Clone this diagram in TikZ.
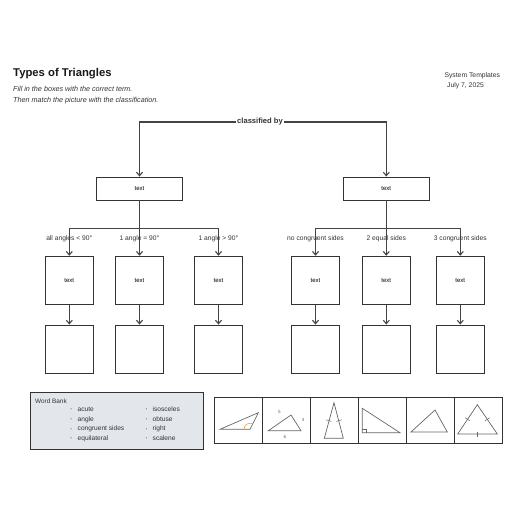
\documentclass[tikz,border=0pt]{standalone}
\usepackage{fontspec}
\setmainfont{Liberation Sans}
\usetikzlibrary{arrows.meta}
\definecolor{ink}{HTML}{333333}
\definecolor{line}{HTML}{444444}
\definecolor{bank}{HTML}{E3E6EB}
\definecolor{tri}{HTML}{666666}
\definecolor{arcc}{HTML}{E8A04A}
\tikzset{
  x=1pt, y=-1pt,
  box/.style={draw=ink, line width=0.9pt, fill=white, inner sep=0pt, font=\fontsize{6}{7}\selectfont},
  topbox/.style={box, minimum width=86pt, minimum height=23pt},
  sqbox/.style={box, minimum width=48pt, minimum height=48pt},
  conn/.style={draw=line, line width=1.1pt, -{Straight Barb[length=3.5pt,width=6pt]}},
  plain/.style={draw=line, line width=1.3pt},
  lab/.style={inner sep=0pt, anchor=base, font=\fontsize{6.7}{7.5}\selectfont, text=ink},
  trg/.style={draw=tri, line width=0.7pt},
  tick/.style={draw=tri, line width=0.5pt},
  small/.style={font=\fontsize{6.6}{7.5}\selectfont, text=ink, anchor=base west, inner sep=0pt}
}
\begin{document}
\begin{tikzpicture}
\useasboundingbox (0,0) rectangle (516,516);
% header
\node[anchor=west, inner sep=0pt, font=\fontsize{11.3}{13}\selectfont\bfseries, text=black!90] (title) at (13,73.5) {Types of Triangles};
\node[anchor=base west, inner sep=0pt, font=\fontsize{7.2}{8.5}\selectfont\itshape, text=ink] (sub1) at (13,91.8) {Fill in the boxes with the correct term.};
\node[anchor=base west, inner sep=0pt, font=\fontsize{7.2}{8.5}\selectfont\itshape, text=ink] (sub2) at (13,102.3) {Then match the picture with the classification.};
\node[small, font=\fontsize{6.8}{8}\selectfont] (sys) at (444.3,78) {System Templates};
\node[small, font=\fontsize{6.8}{8}\selectfont] (date) at (447,88) {July 7, 2025};

% boxes
\node[topbox] (tl) at (139.5,188.5) {text};
\node[topbox] (tr) at (386.3,188.5) {text};
\node[sqbox] (m1) at (69.3,280.2) {text};
\node[sqbox] (m2) at (139.5,280.2) {text};
\node[sqbox] (m3) at (218.5,280.2) {text};
\node[sqbox] (m4) at (315.5,280.2) {text};
\node[sqbox] (m5) at (386.3,280.2) {text};
\node[sqbox] (m6) at (460.3,280.2) {text};
\node[sqbox] (b1) at (69.3,349) {};
\node[sqbox] (b2) at (139.5,349) {};
\node[sqbox] (b3) at (218.5,349) {};
\node[sqbox] (b4) at (315.5,349) {};
\node[sqbox] (b5) at (386.3,349) {};
\node[sqbox] (b6) at (460.3,349) {};

% classified by
\node[fill=white, inner sep=0.8pt, font=\fontsize{7.6}{8.5}\selectfont\bfseries, text=ink] (cb) at (260,122) {classified by};
\draw[conn] (cb.west) -| (tl.north);
\draw[conn] (cb.east) -| (tr.north);

% branches
\coordinate (jl) at (139.5,228.3);
\coordinate (jr) at (386.3,228.3);
\draw[plain] (tl.south) -- (jl);
\draw[conn] (jl) -| (m1.north);
\draw[conn] (jl) -- (m2.north);
\draw[conn] (jl) -| (m3.north);
\draw[plain] (tr.south) -- (jr);
\draw[conn] (jr) -| (m4.north);
\draw[conn] (jr) -- (m5.north);
\draw[conn] (jr) -| (m6.north);
\foreach \i in {1,...,6} { \draw[conn] (m\i.south) -- (b\i.north); }

\node[lab] (l1) at (69.3,240.8) {all angles < 90°};
\node[lab] (l2) at (139.5,240.8) {1 angle = 90°};
\node[lab] (l3) at (218.5,240.8) {1 angle > 90°};
\node[lab] (l4) at (315.5,240.8) {no congruent sides};
\node[lab] (l5) at (386.3,240.8) {2 equal sides};
\node[lab] (l6) at (460.3,240.8) {3 congruent sides};

% word bank
\node[draw=ink, line width=0.9pt, fill=bank, minimum width=173pt, minimum height=57pt, inner sep=0pt, anchor=north west] (wb) at (29.5,392) {};
\node[small, font=\fontsize{6.4}{7.5}\selectfont] (wbt) at (35,403.3) {Word Bank};
\foreach \t [count=\k] in {acute,angle,congruent sides,equilateral} {
  \node[small, font=\fontsize{3.5}{4}\selectfont] (ba\k) at (70.5,400.6+\k*9.8) {•};
  \node[small] (wa\k) at (77.5,401.4+\k*9.8) {\t};
}
\foreach \t [count=\k] in {isosceles,obtuse,right,scalene} {
  \node[small, font=\fontsize{3.5}{4}\selectfont] (bb\k) at (145.7,400.6+\k*9.8) {•};
  \node[small] (wb\k) at (152.5,401.4+\k*9.8) {\t};
}

% picture strip
\foreach \i in {0,...,5} {
  \node[draw=ink, line width=0.9pt, minimum width=48pt, minimum height=46.8pt, inner sep=0pt, anchor=north west] (c\i) at (214+\i*47.9,396.6) {};
}
% obtuse
\draw[trg] (220,429.3) -- (258.3,412.7) -- (250,429.3) -- cycle;
\draw[draw=arcc, line width=0.6pt] (250,429.3) ++(-63:6) arc[start angle=-63, end angle=-180, radius=6];
% scalene
\draw[trg] (268.3,430.7) -- (291,415) -- (301,430.7) -- cycle;
\node[font=\fontsize{4.6}{5}\selectfont, text=tri, inner sep=0pt] (s5) at (279.3,411.7) {5};
\node[font=\fontsize{4.6}{5}\selectfont, text=tri, inner sep=0pt] (s4) at (303.2,419.5) {4};
\node[font=\fontsize{4.6}{5}\selectfont, text=tri, inner sep=0pt] (s6) at (285,437) {6};
% isosceles
\draw[trg] (324.3,438.3) -- (334,402.7) -- (343.3,438.3) -- cycle;
\draw[tick] (326,419.8) -- (331.4,421.4);
\draw[tick] (336.3,421.4) -- (341.7,419.8);
% right
\draw[trg] (362.3,408.3) -- (362.3,432.7) -- (400,432.7) -- cycle;
\draw[tick] (362.3,429.2) -- (365.8,429.2) -- (365.8,432.7);
% acute
\draw[trg] (411,432) -- (435,410) -- (447.3,432) -- cycle;
% equilateral
\draw[trg] (457.7,434) -- (477.3,404.7) -- (497.3,434) -- cycle;
\draw[tick] (465.2,417.8) -- (469.8,420.8);
\draw[tick] (485,420.8) -- (489.6,417.8);
\draw[tick] (477.5,431.5) -- (477.5,436.5);
\end{tikzpicture}
\end{document}
